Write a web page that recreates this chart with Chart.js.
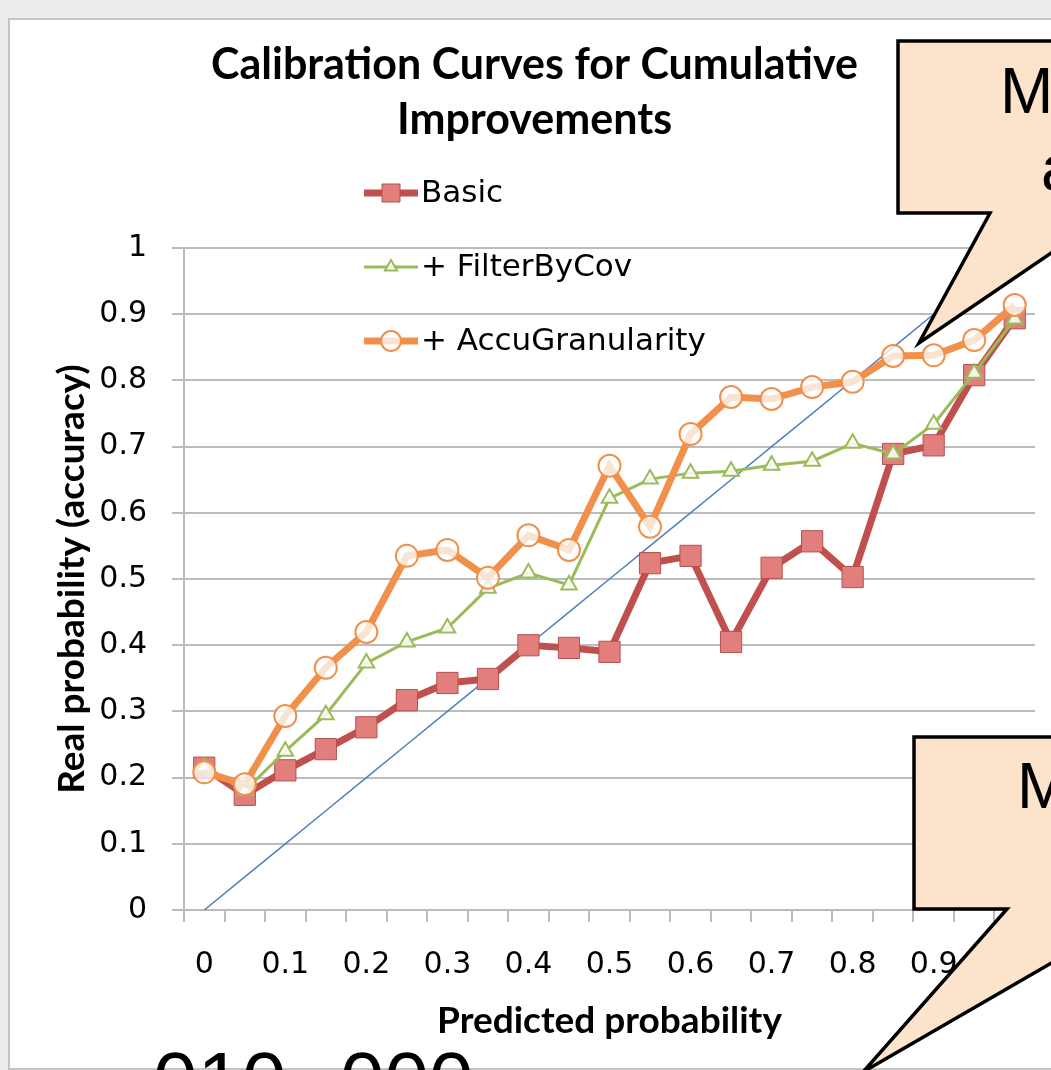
<!DOCTYPE html>
<html>
<head>
<meta charset="utf-8">
<title>Calibration Curves for Cumulative Improvements</title>
<script src="https://cdn.jsdelivr.net/npm/chart.js@4.4.1/dist/chart.umd.min.js"></script>
<style>
  html, body { margin: 0; padding: 0; background: #ececec; }
</style>
</head>
<body>
<canvas id="calibChart" width="1051" height="1070"></canvas>
<script>
// predicted probability bins (category axis, Excel shows every 2nd label)
const predictedBins = ['0', '0.05', '0.1', '0.15', '0.2', '0.25', '0.3', '0.35', '0.4', '0.45', '0.5',
                       '0.55', '0.6', '0.65', '0.7', '0.75', '0.8', '0.85', '0.9', '0.95', '1'];

// real probability (accuracy) per bin
const basicValues = [0.215, 0.174, 0.211, 0.243, 0.276, 0.317, 0.343, 0.349, 0.400, 0.396, 0.390,
                     0.524, 0.535, 0.405, 0.517, 0.557, 0.503, 0.689, 0.702, 0.808, 0.894];
const filterByCovValues = [0.216, 0.180, 0.240, 0.295, 0.373, 0.405, 0.426, 0.486, 0.509, 0.491, 0.622,
                           0.651, 0.660, 0.663, 0.672, 0.678, 0.705, 0.689, 0.734, 0.811, 0.893];
const accuGranularityValues = [0.208, 0.190, 0.293, 0.366, 0.420, 0.535, 0.544, 0.502, 0.566, 0.544, 0.671,
                               0.579, 0.719, 0.775, 0.772, 0.790, 0.798, 0.837, 0.838, 0.861, 0.914];
// perfectly calibrated reference line
const perfectValues = [0, 0.05, 0.1, 0.15, 0.2, 0.25, 0.3, 0.35, 0.4, 0.45, 0.5,
                       0.55, 0.6, 0.65, 0.7, 0.75, 0.8, 0.85, 0.9, 0.95, 1];

const seriesNames = ['Basic', '+ FilterByCov', '+ AccuGranularity'];
const titleLines = ['Calibration Curves for Cumulative', 'Improvements'];

const gridGray = '#BCBCBC';

// light slide background + chart frame
const frameBackground = {
    id: 'frameBackground',
    beforeDraw(chart) {
        const ctx = chart.ctx;
        ctx.save();
        ctx.fillStyle = '#ededed';
        ctx.fillRect(0, 0, chart.width, chart.height);
        ctx.fillStyle = '#ffffff';
        ctx.fillRect(10, 20, chart.width - 10, chart.height - 22);
        ctx.strokeStyle = '#c4c4c4';
        ctx.lineWidth = 2;
        ctx.strokeRect(9, 19, chart.width + 10, chart.height - 20);
        ctx.restore();
    }
};

function drawMarker(ctx, style, x, y, r) {
    ctx.beginPath();
    if (style === 'rect') {
        ctx.rect(x - r, y - r, 2 * r, 2 * r);
    } else if (style === 'triangle') {
        ctx.moveTo(x, y - r);
        ctx.lineTo(x + r * 0.866, y + r * 0.5);
        ctx.lineTo(x - r * 0.866, y + r * 0.5);
        ctx.closePath();
    } else {
        ctx.arc(x, y, r, 0, Math.PI * 2);
    }
    ctx.fill();
    ctx.stroke();
}

// Excel-like legend: line + marker, stacked inside the plot
const excelLegend = {
    id: 'excelLegend',
    afterDatasetsDraw(chart) {
        const ctx = chart.ctx;
        const sizes = [9, 7, 10];
        ctx.save();
        chart.data.datasets.forEach((ds, i) => {
            if (i >= seriesNames.length) return;
            const y = 193 + i * 74;
            ctx.strokeStyle = ds.borderColor;
            ctx.lineWidth = ds.borderWidth;
            ctx.beginPath();
            ctx.moveTo(364, y);
            ctx.lineTo(418, y);
            ctx.stroke();
            ctx.fillStyle = ds.pointBackgroundColor;
            ctx.strokeStyle = ds.pointBorderColor;
            ctx.lineWidth = ds.pointBorderWidth;
            drawMarker(ctx, ds.pointStyle, 391, y, sizes[i]);
            ctx.fillStyle = '#000';
            ctx.font = '31px "DejaVu Sans"';
            ctx.textBaseline = 'middle';
            ctx.textAlign = 'left';
            ctx.fillText(ds.label, 421, y + 1);
        });
        ctx.restore();
    }
};

// speech-bubble callouts from the slide, lying over the chart
const callouts = {
    id: 'callouts',
    afterDraw(chart) {
        const ctx = chart.ctx;
        const shapes = [
            [[898, 41], [1060, 41], [1060, 247], [919, 343], [990, 213], [898, 213]],
            [[914, 737], [1060, 737], [1060, 958], [863, 1072], [1007, 909], [914, 909]]
        ];
        ctx.save();
        shapes.forEach(pts => {
            ctx.beginPath();
            ctx.moveTo(pts[0][0], pts[0][1]);
            pts.slice(1).forEach(p => ctx.lineTo(p[0], p[1]));
            ctx.closePath();
            ctx.fillStyle = '#FBE4CB';
            ctx.fill();
            ctx.strokeStyle = '#000';
            ctx.lineWidth = 3.5;
            ctx.lineJoin = 'miter';
            ctx.stroke();
        });
        ctx.fillStyle = '#000';
        ctx.font = '64px "Liberation Sans"';
        ctx.textBaseline = 'alphabetic';
        ctx.textAlign = 'left';
        ctx.fillText('M', 1000, 113);
        ctx.fillText('a', 1041, 190);
        ctx.fillText('M', 1017, 808);
        // slide text cut off by the screenshot edge
        ctx.font = '80px "Liberation Sans"';
        ctx.fillText('010', 153, 1108);
        ctx.fillText('000', 340, 1108);
        ctx.restore();
    }
};

const ctx = document.getElementById('calibChart').getContext('2d');
const chart = new Chart(ctx, {
    type: 'line',
    data: {
        labels: predictedBins,
        datasets: [
            {
                label: seriesNames[0],
                data: basicValues,
                borderColor: '#C0504D',
                borderWidth: 7,
                pointStyle: 'rect',
                pointRadius: 15,
                pointBackgroundColor: '#E27F7C',
                pointBorderColor: '#B5504D',
                pointBorderWidth: 1,
                tension: 0,
                order: 3
            },
            {
                label: seriesNames[1],
                data: filterByCovValues,
                borderColor: '#9BBB59',
                borderWidth: 3,
                pointStyle: 'triangle',
                pointRadius: 9,
                pointBackgroundColor: 'rgba(255,255,255,0.85)',
                pointBorderColor: '#9BBB59',
                pointBorderWidth: 2,
                tension: 0,
                order: 2
            },
            {
                label: seriesNames[2],
                data: accuGranularityValues,
                borderColor: '#F0904A',
                borderWidth: 7,
                pointStyle: 'circle',
                pointRadius: 11,
                pointBackgroundColor: 'rgba(255,255,255,0.75)',
                pointBorderColor: '#F0904A',
                pointBorderWidth: 2,
                tension: 0,
                order: 1
            },
            {
                label: 'Perfect',
                data: perfectValues,
                borderColor: '#4F81BD',
                borderWidth: 1.5,
                pointRadius: 0,
                tension: 0,
                order: 4
            }
        ]
    },
    options: {
        responsive: false,
        animation: false,
        layout: { padding: { left: 34, right: 16, top: 0, bottom: 0 } },
        plugins: {
            legend: { display: false },
            tooltip: { enabled: false },
            title: {
                display: true,
                text: titleLines,
                color: '#000',
                font: { family: 'Lato', weight: 'bold', size: 43, lineHeight: 1.28 },
                padding: { top: 38, bottom: 100 }
            }
        },
        scales: {
            x: {
                type: 'category',
                offset: true,
                grid: {
                    offset: true,
                    drawOnChartArea: false,
                    drawTicks: true,
                    tickLength: 12,
                    color: gridGray,
                    lineWidth: 2
                },
                border: { display: true, color: gridGray, width: 2 },
                ticks: {
                    autoSkip: false,
                    maxRotation: 0,
                    padding: 25,
                    color: '#000',
                    font: { family: 'DejaVu Sans', size: 30 },
                    callback: function(value, index) {
                        return index % 2 === 0 ? this.getLabelForValue(value) : '';
                    }
                },
                title: {
                    display: true,
                    text: 'Predicted probability',
                    color: '#000',
                    font: { family: 'Lato', weight: 'bold', size: 37, lineHeight: 1.2 },
                    padding: { top: 0, bottom: 27 }
                },
                afterFit(scale) { scale.height = 160; }
            },
            y: {
                min: 0,
                max: 1,
                grid: {
                    color: gridGray,
                    lineWidth: 2,
                    drawTicks: true,
                    tickLength: 12
                },
                border: { display: true, color: gridGray, width: 2 },
                ticks: {
                    stepSize: 0.1,
                    padding: 25,
                    color: '#000',
                    font: { family: 'DejaVu Sans', size: 30 },
                    callback: v => (v === 0 || v === 1) ? String(v) : v.toFixed(1)
                },
                title: {
                    display: true,
                    text: 'Real probability (accuracy)',
                    color: '#000',
                    font: { family: 'Lato', weight: 'bold', size: 37, lineHeight: 1.2 },
                    padding: { top: 16, bottom: 0 }
                },
                afterFit(scale) { scale.width = 150; }
            }
        }
    },
    plugins: [frameBackground, excelLegend, callouts]
});
</script>
</body>
</html>
